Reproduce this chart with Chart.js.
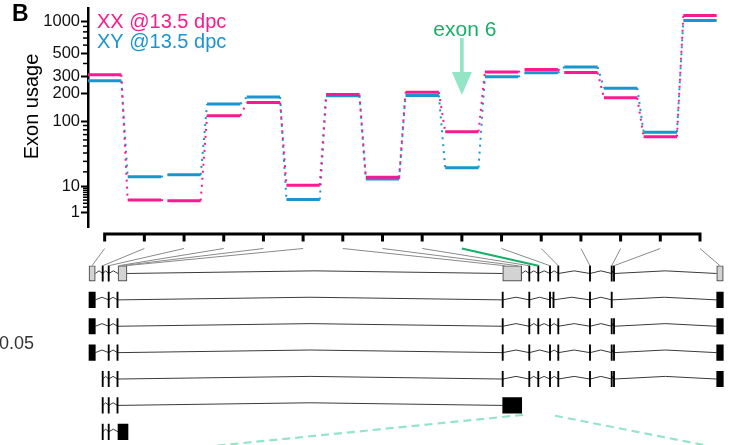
<!DOCTYPE html>
<html>
<head>
<meta charset="utf-8">
<script src="https://cdn.jsdelivr.net/npm/chart.js@4.4.1/dist/chart.umd.min.js"></script>
<style>
  html, body { margin: 0; padding: 0; background: #fff; }
  #wrap { position: relative; width: 744px; height: 445px; overflow: hidden; }
  #wrap canvas { position: absolute; left: 0; top: 0; }
</style>
</head>
<body>
<div id="wrap">
  <canvas id="usageChart" width="744" height="445"></canvas>
  <canvas id="geneChart" width="744" height="445"></canvas>
</div>
<script>
// Exon counting bins and usage per condition
const exonBins = [1, 2, 3, 4, 5, 6, 7, 8, 9, 10, 11, 12, 13, 14, 15, 16];
const xxUsage = [310, 4.0, 3.8, 116, 162, 10.7, 196, 15.8, 207, 76, 330, 349, 327, 181, 66, 1137];
const xyUsage = [270, 16.1, 17.6, 156, 185, 4.2, 190, 14.6, 192, 23.7, 296, 324, 369, 228, 75, 1022];
const seriesNames = ['XX @13.5 dpc', 'XY @13.5 dpc'];

// y axis ticks (raw usage values)
const labeledTicks = [1, 10, 100, 200, 300, 500, 1000];
const minorTicks = [2, 3, 4, 5, 6, 7, 8, 9, 20, 30, 40, 50, 60, 70, 80, 90, 400, 600, 700, 800, 900];

const highlightBin = 10;
const highlightLabel = 'exon 6';

// Transcript models, exon coordinates in kb (one value = short exon)
const transcriptExons = [
  [[0, 0.63], [1.37], [1.97], [2.9, 3.8], [41.37, 43.27], [44.03], [44.93], [46.1], [46.93], [50.1], [52.27], [52.5], [62.77, 63.43]],
  [[0, 0.63], [1.97], [2.85], [41.37], [44.03], [46.1], [46.45], [50.1], [52.27], [62.77, 63.43]],
  [[0, 0.63], [1.97], [2.85], [41.37], [44.03], [44.93], [46.1], [46.93], [50.1], [52.27], [52.5], [62.77, 63.43]],
  [[0, 0.63], [1.97], [2.85], [41.37], [44.03], [46.1], [46.93], [50.1], [52.27], [52.5], [62.77, 63.43]],
  [[1.37], [1.97], [2.85], [41.37], [44.03], [44.93], [46.1], [46.93], [50.1], [52.27], [52.5], [62.77, 63.43]],
  [[1.37], [1.97], [2.85], [41.37, 43.27]],
  [[1.37], [1.97], [2.9, 3.9]]
];
// where each counting bin sits on the gene (kb)
const binPositions = [0.3, 1.37, 1.97, 2.95, 3.25, 3.6, 41.6, 42.9, 44.03, 44.93, 46.1, 46.93, 50.1, 52.27, 52.5, 63.1];
// zoom guide lines toward the next panel: [kb, row] pairs
const zoomGuideLeft = [[43.4, 6.36], [11.6, 7.57]];
const zoomGuideRight = [[46.6, 6.39], [61.5, 7.5]];

const PINK = '#f81a8e';
const BLUE = '#1a96cf';
const GREEN = '#16b068';
const MINT = '#93e5c6';
const FONT = '"Liberation Sans", Arial, Helvetica, sans-serif';

const BIN_MIN = 0.58, BIN_MAX = 16.62;
const HALF = 0.42;

// variance stabilising transform used for the y axis
const VST_K = 60;
const vst = v => 2 * Math.asinh(Math.sqrt(v / VST_K));
const invVst = t => VST_K * Math.pow(Math.sinh(t / 2), 2);

function stepData(values) {
  const pts = [];
  values.forEach((v, i) => {
    const b = exonBins[i];
    pts.push({x: b - HALF, y: vst(v)}, {x: b + HALF, y: vst(v)}, {x: b + 0.5, y: null});
  });
  return pts;
}

function linkData(values) {
  const pts = [];
  for (let i = 0; i < values.length - 1; i++) {
    pts.push({x: exonBins[i] + HALF, y: vst(values[i])},
             {x: exonBins[i + 1] - HALF, y: vst(values[i + 1])},
             {x: exonBins[i] + 0.5, y: null});
  }
  return pts;
}

const lineBase = {pointRadius: 0, tension: 0, fill: false, spanGaps: false, borderCapStyle: 'butt'};

const usageDecor = {
  id: 'usageDecor',
  afterDraw(chart) {
    const {ctx, chartArea, scales: {x, y}} = chart;
    ctx.save();
    // minor ticks
    ctx.strokeStyle = '#000';
    ctx.lineWidth = 1.5;
    minorTicks.forEach(v => {
      const py = y.getPixelForValue(vst(v));
      ctx.beginPath();
      ctx.moveTo(chartArea.left - 5, py);
      ctx.lineTo(chartArea.left, py);
      ctx.stroke();
    });
    // panel letter
    ctx.fillStyle = '#000';
    ctx.font = 'bold 23px ' + FONT;
    ctx.textAlign = 'left';
    ctx.textBaseline = 'alphabetic';
    ctx.fillText('B', 12, 21);
    // legend
    ctx.font = '20px ' + FONT;
    ctx.fillStyle = PINK;
    ctx.fillText(seriesNames[0], 97, 28);
    ctx.fillStyle = BLUE;
    ctx.fillText(seriesNames[1], 97, 48);
    // axis title
    ctx.save();
    ctx.translate(32, 106.5);
    ctx.rotate(-Math.PI / 2);
    ctx.textAlign = 'center';
    ctx.textBaseline = 'middle';
    ctx.fillStyle = '#000';
    ctx.fillText('Exon usage', 0, 0);
    ctx.restore();
    // highlighted exon label and arrow
    const ax = x.getPixelForValue(highlightBin);
    ctx.fillStyle = GREEN;
    ctx.font = '21px ' + FONT;
    ctx.textAlign = 'center';
    ctx.fillText(highlightLabel, ax + 3, 36);
    ctx.fillStyle = MINT;
    ctx.fillRect(ax - 1.8, 38, 3.6, 35);
    ctx.beginPath();
    ctx.moveTo(ax - 10, 72);
    ctx.lineTo(ax + 10, 72);
    ctx.lineTo(ax, 95);
    ctx.closePath();
    ctx.fill();
    ctx.restore();
  }
};

new Chart(document.getElementById('usageChart'), {
  type: 'line',
  data: {
    datasets: [
      Object.assign({label: seriesNames[0], data: stepData(xxUsage), borderColor: PINK, borderWidth: 3, order: 0}, lineBase),
      Object.assign({label: seriesNames[0] + ' links', data: linkData(xxUsage), borderColor: PINK, borderWidth: 2, borderDash: [2, 5], order: 0}, lineBase),
      Object.assign({label: seriesNames[1], data: stepData(xyUsage), borderColor: BLUE, borderWidth: 3, order: 1}, lineBase),
      Object.assign({label: seriesNames[1] + ' links', data: linkData(xyUsage), borderColor: BLUE, borderWidth: 2, borderDash: [2, 5], order: 1}, lineBase)
    ]
  },
  options: {
    responsive: false,
    animation: false,
    devicePixelRatio: 1,
    layout: {padding: {left: 0, right: 19.4, top: 8, bottom: 218}},
    plugins: {legend: {display: false}, tooltip: {enabled: false}},
    scales: {
      x: {type: 'linear', min: BIN_MIN, max: BIN_MAX, display: false},
      y: {
        type: 'linear',
        min: -0.05,
        max: 4.51,
        afterBuildTicks: scale => { scale.ticks = labeledTicks.map(v => ({value: vst(v)})); },
        afterFit: scale => { scale.width = 88; scale.paddingTop = 0; scale.paddingBottom = 0; },
        ticks: {
          autoSkip: false,
          padding: 1,
          color: '#111',
          font: {family: FONT, size: 16.5},
          callback: val => String(Math.round(invVst(val)))
        },
        grid: {drawOnChartArea: false, drawTicks: true, tickLength: 7, tickWidth: 2, tickColor: '#000'},
        border: {display: true, color: '#000', width: 2.5}
      }
    }
  },
  plugins: [usageDecor]
});

// ---- gene model panel ----
const RULER = -0.497, TICK_END = -0.213, LINK_TOP = 0.053, LINK_BOTTOM = 0.706;
const THIN = 0.06, PEAK = 0.1;

const rulerData = [];
exonBins.forEach(b => { rulerData.push({x: b, y: RULER}, {x: b, y: TICK_END}, {x: b, y: RULER}); });

const grayBars = [], blackBars = [], intronData = [];
transcriptExons.forEach((exons, r) => {
  const row = r + 1;
  exons.forEach((ex, k) => {
    const span = ex.length > 1 ? [ex[0], ex[1]] : [ex[0] - THIN, ex[0] + THIN];
    (row === 1 && ex.length > 1 ? grayBars : blackBars).push({x: span, y: row});
    if (k < exons.length - 1) {
      const a = ex[ex.length - 1], b = exons[k + 1][0];
      intronData.push({x: a, y: row}, {x: (a + b) / 2, y: row - PEAK}, {x: b, y: row});
    }
  });
  intronData.push({x: 0, y: null});
});

const geneDecor = {
  id: 'geneDecor',
  afterDatasetsDraw(chart) {
    const {ctx, scales: {x, xg, y}} = chart;
    ctx.save();
    const order = exonBins.map((b, i) => i).sort((i, j) => (exonBins[i] === highlightBin) - (exonBins[j] === highlightBin));
    order.forEach(i => {
      const hl = exonBins[i] === highlightBin;
      ctx.strokeStyle = hl ? GREEN : '#8a8a8a';
      ctx.lineWidth = hl ? 2.2 : 1;
      ctx.beginPath();
      ctx.moveTo(x.getPixelForValue(exonBins[i]), y.getPixelForValue(LINK_TOP));
      ctx.lineTo(xg.getPixelForValue(binPositions[i]), y.getPixelForValue(LINK_BOTTOM));
      ctx.stroke();
    });
    ctx.fillStyle = '#333';
    ctx.font = '18px ' + FONT;
    ctx.textAlign = 'left';
    ctx.textBaseline = 'alphabetic';
    ctx.fillText('0.05', -1, 349);
    ctx.restore();
  }
};

const barBase = {type: 'bar', indexAxis: 'y', xAxisID: 'xg', yAxisID: 'y', barThickness: 15.5, grouped: false, borderSkipped: false, order: 1};
const guideBase = {type: 'line', xAxisID: 'xg', yAxisID: 'y', borderColor: MINT, borderWidth: 2.2, borderDash: [8, 5], order: 2};

new Chart(document.getElementById('geneChart'), {
  type: 'line',
  data: {
    datasets: [
      Object.assign({label: 'introns', data: intronData, xAxisID: 'xg', yAxisID: 'y', borderColor: '#3a3a3a', borderWidth: 1, order: 3}, lineBase),
      Object.assign({label: 'bins', data: rulerData, xAxisID: 'x', yAxisID: 'y', borderColor: '#000', borderWidth: 3, order: 2}, lineBase),
      Object.assign({label: 'guide left', data: zoomGuideLeft.map(p => ({x: p[0], y: p[1]}))}, lineBase, guideBase),
      Object.assign({label: 'guide right', data: zoomGuideRight.map(p => ({x: p[0], y: p[1]}))}, lineBase, guideBase),
      Object.assign({label: 'model exons', data: grayBars, backgroundColor: '#d3d3d3', borderColor: '#555', borderWidth: 1.2}, barBase),
      Object.assign({label: 'transcript exons', data: blackBars, backgroundColor: '#000', borderWidth: 0}, barBase)
    ]
  },
  options: {
    responsive: false,
    animation: false,
    devicePixelRatio: 1,
    layout: {padding: {left: 88, right: 19.4, top: 226, bottom: 0}},
    plugins: {legend: {display: false}, tooltip: {enabled: false}},
    scales: {
      x: {type: 'linear', min: BIN_MIN, max: BIN_MAX, offset: false, display: false},
      xg: {type: 'linear', axis: 'x', min: -0.1, max: 63.56, offset: false, display: false},
      y: {type: 'linear', reverse: true, min: -0.8, max: 7.5, offset: false, display: false}
    }
  },
  plugins: [geneDecor]
});
</script>
</body>
</html>
